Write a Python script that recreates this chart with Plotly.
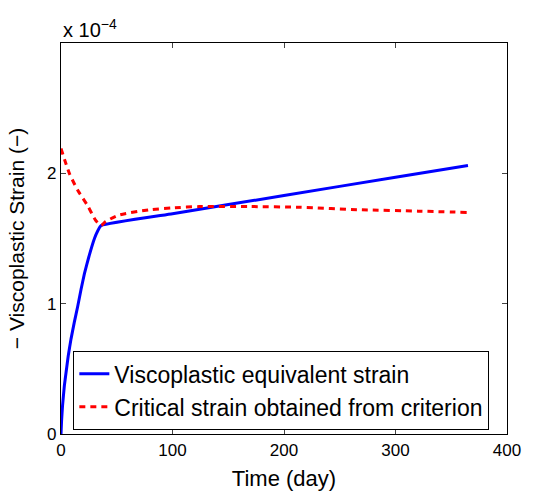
import plotly.graph_objects as go

# Values in units of 1e-4
vp_days = [0, 0.5, 1.4, 3, 4.5, 6.5, 9, 12, 15, 18, 21, 25, 30, 33, 36, 100, 200, 300, 365]
vp_strain = [0, 0.1, 0.22, 0.37, 0.47, 0.6, 0.73, 0.86, 0.98, 1.11, 1.23, 1.36, 1.5, 1.56, 1.6, 1.69, 1.83, 1.97, 2.06]

cr_days = [0, 7.5, 15, 24, 31, 36, 40, 52, 79, 100, 124, 169, 214, 270, 320, 365]
cr_strain = [2.19, 2.0, 1.87, 1.75, 1.64, 1.6, 1.63, 1.68, 1.72, 1.735, 1.745, 1.745, 1.74, 1.72, 1.71, 1.70]

x_ticks = [0, 100, 200, 300, 400]
y_ticks = [0, 1, 2]
y_ticklabels = ["0", "1", "2"]

font = "Liberation Sans, Arial, sans-serif"

fig = go.Figure()
fig.add_trace(go.Scatter(x=vp_days, y=vp_strain, mode="lines",
                         line=dict(color="#0000ff", width=3, shape="spline", smoothing=0.3),
                         name="Viscoplastic equivalent strain"))
fig.add_trace(go.Scatter(x=cr_days, y=cr_strain, mode="lines",
                         line=dict(color="#ff0000", width=3, dash="6px,5px", shape="spline", smoothing=0.6),
                         name="Critical strain obtained from criterion"))

fig.update_layout(
    width=537, height=491,
    margin=dict(l=61, r=30, t=43, b=57, autoexpand=False),
    paper_bgcolor="white", plot_bgcolor="white",
    font=dict(family=font, size=17, color="black"),
    showlegend=True,
    legend=dict(x=0.027, y=0.01, xanchor="left", yanchor="bottom",
                bordercolor="black", borderwidth=1.3, bgcolor="white",
                font=dict(size=23, family=font), tracegroupgap=0, itemwidth=30),
    xaxis=dict(range=[0, 400], tickvals=x_ticks, ticks="inside", ticklen=5,
               showline=True, linecolor="black", linewidth=1.3, mirror="ticks",
               showgrid=False, zeroline=False, automargin=False,
               title=dict(text="Time (day)", font=dict(size=22), standoff=12)),
    yaxis=dict(range=[0, 3], tickvals=y_ticks, ticktext=y_ticklabels, ticks="inside", ticklen=5,
               showline=True, linecolor="black", linewidth=1.3, mirror="ticks",
               showgrid=False, zeroline=False, automargin=False,
               title=dict(text="\u2212 Viscoplastic Strain (\u2212)", font=dict(size=21), standoff=16)),
    annotations=[dict(text="x 10<sup>\u22124</sup>", xref="paper", yref="paper",
                      x=0, y=1.0, xanchor="left", yanchor="bottom", showarrow=False,
                      font=dict(size=20, family=font), yshift=0)],
)

fig.write_html("out.html")
